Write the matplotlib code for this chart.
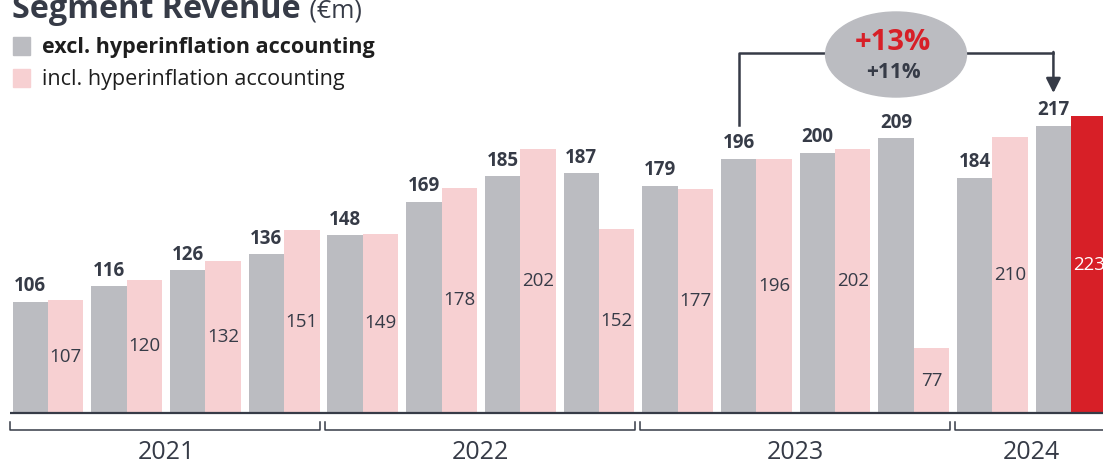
import matplotlib
matplotlib.use("Agg")
import matplotlib.pyplot as plt
from matplotlib.patches import Ellipse, Rectangle
import numpy as np

plt.rcParams['font.family'] = ['Open Sans', 'DejaVu Sans']

# data
years = ['2021', '2022', '2023', '2024']
groups_per_year = [4, 4, 4, 2]
excl = [106, 116, 126, 136, 148, 169, 185, 187, 179, 196, 200, 209, 184, 217]
incl = [107, 120, 132, 151, 149, 178, 202, 152, 177, 196, 202, 77, 210, 223]
growth_incl = '+13%'
growth_excl = '+11%'

GREY = '#bbbcc1'
PINK = '#f7d0d2'
RED = '#d71f27'
DARK = '#363b47'

W, H = 1103, 465
fig = plt.figure(figsize=(W / 100, H / 100), dpi=100)
ax = fig.add_axes([0, 0, 1, 1])
ax.set_xlim(-0.61, 13.405)
ax.set_ylim(3.4, 296.0)
ax.axis('off')

x = np.arange(len(excl))
bw = 0.45
base = 36.1
incl_colors = [PINK] * (len(incl) - 1) + [RED]

ax.bar(x - bw / 2, np.array(excl) - base, bw, bottom=base, color=GREY)
ax.bar(x + bw / 2, np.array(incl) - base, bw, bottom=base, color=incl_colors)

for i, v in enumerate(excl):
    ax.annotate(str(v), (x[i] - bw / 2, v), xytext=(0, 4), textcoords='offset points',
                ha='center', va='bottom', fontsize=13.5, fontweight='bold', color=DARK)
for i, v in enumerate(incl):
    c = 'white' if i == len(incl) - 1 else DARK
    ax.text(x[i] + bw / 2, (v + base) / 2, str(v), ha='center', va='center',
            fontsize=13.5, color=c)

# baseline
ax.plot([-0.48, 13.5], [base, base], color=DARK, lw=1.6, solid_capstyle='butt')

# year brackets
start = 0
for yr, n in zip(years, groups_per_year):
    x0 = start - 0.48
    x1 = start + n - 1 + 0.456
    if yr == '2024':
        x1 = 14
    ax.plot([x0, x0, x1, x1], [30.6, 25.4, 25.4, 30.6], color=DARK, lw=1.1)
    ax.text(start + (n - 1) / 2, 11.3, yr, ha='center', va='center', fontsize=18, color=DARK)
    start += n

# growth annotation
xl = 9 - bw / 2
xr = 13 - bw / 2
ytop = 262.7
ax.plot([xl, xl, 10.2], [217.3, ytop, ytop], color=DARK, lw=1.8)
ax.plot([11.3, xr], [ytop, ytop], color=DARK, lw=1.8)
ax.annotate('', xy=(xr, 237.5), xytext=(xr, ytop + 0.6),
            arrowprops=dict(arrowstyle='-|>', color=DARK, lw=1.8, mutation_scale=22,
                            shrinkA=0, shrinkB=0))
ax.add_patch(Ellipse((10.775, 261.7), 1.79, 53.5, color=GREY, zorder=3))
ax.text(10.74, 269.5, growth_incl, ha='center', va='center', fontsize=21,
        fontweight='bold', color=RED, zorder=4)
ax.text(10.74, 250.2, growth_excl, ha='center', va='center', fontsize=15,
        fontweight='bold', color=DARK, zorder=4)

# title (cropped at the top, as in the source)
fig.text(12 / W, 1 - 18 / H, 'Segment Revenue', fontsize=23.3, fontweight='bold',
         color=DARK, ha='left', va='baseline')
fig.text(303 / W, 1 - 18 / H, ' (€m)', fontsize=18, color=DARK, ha='left', va='baseline')

# legend
fig.patches.append(Rectangle((13 / W, 1 - 55 / H), 17 / W, 18 / H,
                             transform=fig.transFigure, color=GREY, figure=fig))
fig.patches.append(Rectangle((13 / W, 1 - 87 / H), 17 / W, 18 / H,
                             transform=fig.transFigure, color=PINK, figure=fig))
fig.text(42 / W, 1 - 47 / H, 'excl. hyperinflation accounting', fontsize=15.5,
         fontweight='bold', color='#1e1e1e', ha='left', va='center')
fig.text(42 / W, 1 - 79 / H, 'incl. hyperinflation accounting', fontsize=15.5,
         color='#1e1e1e', ha='left', va='center')

fig.savefig('out.png', dpi=100)
